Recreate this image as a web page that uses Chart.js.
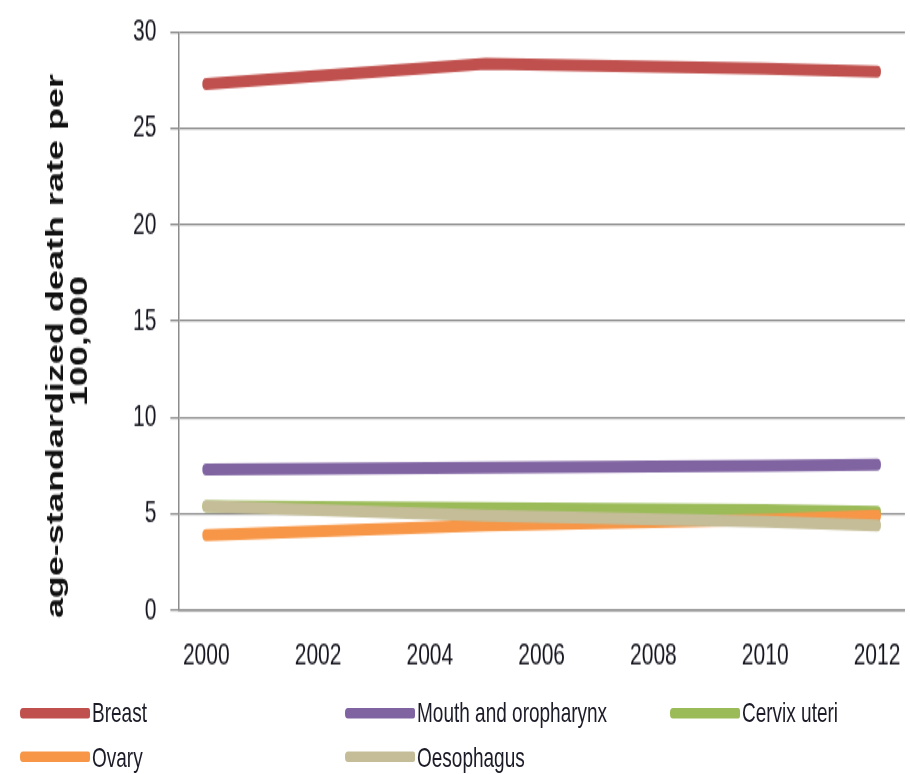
<!DOCTYPE html>
<html>
<head>
<meta charset="utf-8">
<script src="https://cdn.jsdelivr.net/npm/chart.js@4/dist/chart.umd.min.js"></script>
<style>
  html, body { margin: 0; padding: 0; background: #fff; overflow: hidden; }
  /* drawing surface is laid out flat and stretched vertically */
  #stage { position: absolute; left: 0; top: 0; width: 910px; height: 516px;
           transform: scaleY(1.5); transform-origin: 0 0; }
  #wrap { position: absolute; left: 0; top: 0; width: 910px; height: 516px; }
  .item { position: absolute; height: 24px; display: flex; align-items: center;
          font: 19px "Liberation Sans", Arial, sans-serif; color: #1c1c28; white-space: nowrap; }
  .swatch { width: 70px; height: 7px; border-radius: 3px 2px 2px 3px; margin-right: 2px; }
</style>
</head>
<body>
<div id="stage">
  <div id="wrap"><canvas id="c"></canvas></div>
  <div id="legend"></div>
</div>
<script>
// x axis categories (one per year) and the years that carry estimates
const years = ['2000','2001','2002','2003','2004','2005','2006','2007','2008','2009','2010','2011','2012'];
const sampleYears = ['2000','2005','2010','2012'];

// age-standardized death rate per 100,000
const breast     = [27.3, 28.35, 28.1, 27.95];
const mouth      = [7.3, 7.4, 7.5, 7.55];
const cervix     = [5.4, 5.3, 5.2, 5.1];
const ovary      = [3.9, 4.4, 4.7, 4.9];
const oesophagus = [5.4, 4.9, 4.6, 4.4];

const seriesNames  = ['Breast', 'Mouth and oropharynx', 'Cervix uteri', 'Ovary', 'Oesophagus'];
const seriesValues = [breast, mouth, cervix, ovary, oesophagus];
const seriesColors = ['#C0504D', '#8064A2', '#9BBB59', '#F79646', '#C4BD97'];

const yTicks = { min: 0, max: 30, step: 5 };
// trailing spaces nudge the centred title a little towards the axis origin
const yTitle = ['age-standardized death rate per     ', '100,000    '];

const datasets = seriesNames.map((name, i) => ({
  label: name,
  data: seriesValues[i].map((v, j) => ({ x: sampleYears[j], y: v })),
  borderColor: seriesColors[i],
  backgroundColor: seriesColors[i],
  borderWidth: 8,
  borderCapStyle: 'round',
  borderJoinStyle: 'round',
  pointRadius: 0,
  tension: 0,
  fill: false,
  order: seriesNames.length - 1 - i   // later series are painted over earlier ones
}));

const tickFont = { family: '"Liberation Sans", Arial, sans-serif', size: 21 };

new Chart(document.getElementById('c'), {
  type: 'line',
  data: { labels: years, datasets },
  options: {
    responsive: true,
    maintainAspectRatio: false,
    animation: false,
    events: [],
    layout: { padding: { left: 33, top: 21.3, right: -14, bottom: 57 } },
    plugins: { legend: { display: false }, tooltip: { enabled: false } },
    scales: {
      x: {
        type: 'category',
        offset: true,
        grid: { display: false },
        border: { display: true, color: '#8c8c8c', width: 1.5 },
        ticks: {
          autoSkip: false, maxRotation: 0, padding: 9.5, color: '#15151f', font: tickFont,
          callback: (v, i) => (i % 2 === 0 ? years[i] : '')
        }
      },
      y: {
        min: yTicks.min, max: yTicks.max,
        grid: { color: '#8c8c8c', lineWidth: 1.3, tickLength: 8, drawTicks: true },
        border: { display: true, color: '#8c8c8c', width: 1.5 },
        ticks: { stepSize: yTicks.step, padding: 14, color: '#15151f', font: tickFont },
        // keep the top label's overflow allowance small so the plot reaches up to the top
        afterFit: (scale) => { scale.paddingTop = 8; scale.paddingBottom = 8; },
        title: {
          display: true, text: yTitle, color: '#111',
          font: { family: '"Liberation Sans", Arial, sans-serif', size: 24, weight: 'bold', lineHeight: 1.0 },
          padding: { top: 11, bottom: 27 }
        }
      }
    }
  }
});

// legend: three columns, two rows
const legendCols = [20, 345, 670];
const legendRows = [463, 492.5];
const legend = document.getElementById('legend');
seriesNames.forEach((name, i) => {
  const item = document.createElement('div');
  item.className = 'item';
  item.style.left = legendCols[i % 3] + 'px';
  item.style.top = legendRows[Math.floor(i / 3)] + 'px';
  const sw = document.createElement('span');
  sw.className = 'swatch';
  sw.style.background = seriesColors[i];
  const tx = document.createElement('span');
  tx.textContent = name;
  item.appendChild(sw);
  item.appendChild(tx);
  legend.appendChild(item);
});
</script>
</body>
</html>
